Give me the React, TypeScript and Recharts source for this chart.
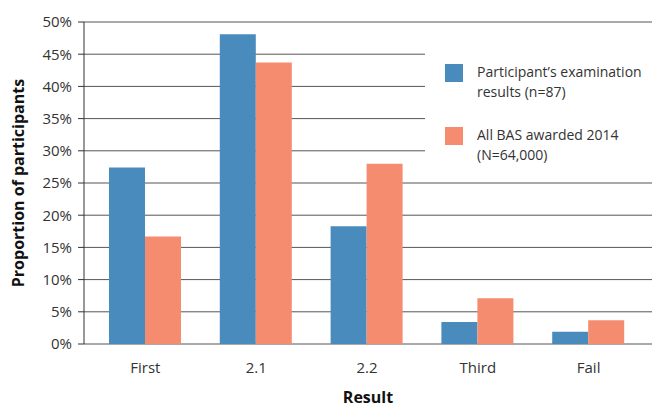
import { BarChart, Bar, XAxis, YAxis, CartesianGrid } from 'recharts'

const results = ['First', '2.1', '2.2', 'Third', 'Fail']
const participants = [27.4, 48.1, 18.3, 3.4, 1.9]
const allBas = [16.7, 43.7, 28.0, 7.1, 3.7]
const yTicks = [0, 5, 10, 15, 20, 25, 30, 35, 40, 45, 50]

const seriesNames = {
  participants: ['Participant\u2019s examination', 'results (n=87)'],
  allBas: ['All BAS awarded 2014', '(N=64,000)'],
}

const BLUE = '#4A8BBD'
const ORANGE = '#F58C6F'
const FONT = '"Open Sans", sans-serif'

const data = results.map((r, i) => ({
  result: r,
  participants: participants[i],
  allBas: allBas[i],
}))

function LegendBox() {
  const items = [
    { color: BLUE, lines: seriesNames.participants },
    { color: ORANGE, lines: seriesNames.allBas },
  ]
  return (
    <div
      style={{
        position: 'absolute',
        left: 425,
        top: 45,
        width: 227,
        height: 115,
        boxSizing: 'border-box',
        background: '#fff',
        padding: '17px 0 0 20px',
        fontFamily: FONT,
      }}
    >
      {items.map((it, i) => (
        <div key={i} style={{ display: 'flex', alignItems: 'flex-start', marginBottom: i === 0 ? 23 : 0 }}>
          <div style={{ width: 18, height: 18, background: it.color, marginTop: 2, flexShrink: 0 }} />
          <div style={{ marginLeft: 14, fontSize: 14, lineHeight: '20px', color: '#333', whiteSpace: 'nowrap' }}>
            {it.lines.map((l) => (
              <div key={l}>{l}</div>
            ))}
          </div>
        </div>
      ))}
    </div>
  )
}

export default function App() {
  return (
    <div style={{ position: 'absolute', left: 0, top: 0, width: 661, height: 408, background: '#fff' }}>
      <BarChart
        width={661}
        height={408}
        data={data}
        margin={{ top: 22, right: 9, left: 0, bottom: 0 }}
        barGap={0}
        barSize={36}
      >
        <CartesianGrid vertical={false} stroke="#555" />
        <XAxis
          dataKey="result"
          height={64}
          axisLine={false}
          tickLine={false}
          tickSize={0}
          tickMargin={18}
          padding={{ left: 6, right: 8 }}
          tick={{ fill: '#333', fontSize: 15, fontFamily: FONT }}
          label={{
            value: 'Result',
            position: 'insideBottom',
            offset: 5,
            style: { fill: '#111', fontSize: 16, fontWeight: 700, fontFamily: FONT },
          }}
        />
        <YAxis
          width={84}
          domain={[0, 50]}
          ticks={yTicks}
          interval={0}
          tickFormatter={(v) => `${v}%`}
          axisLine={{ stroke: '#333' }}
          tickLine={{ stroke: '#333' }}
          tickSize={6}
          tickMargin={6}
          tick={{ fill: '#333', fontSize: 15, fontFamily: FONT }}
          label={{
            value: 'Proportion of participants',
            angle: -90,
            position: 'insideLeft',
            offset: 18,
            style: { textAnchor: 'middle', fill: '#111', fontSize: 16, fontWeight: 700, fontFamily: FONT },
          }}
        />
        <Bar dataKey="participants" fill={BLUE} isAnimationActive={false} />
        <Bar dataKey="allBas" fill={ORANGE} isAnimationActive={false} />
      </BarChart>
      <LegendBox />
    </div>
  )
}
